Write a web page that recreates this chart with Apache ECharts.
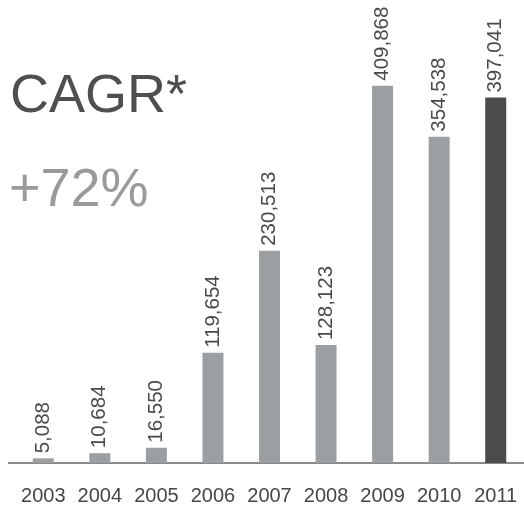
<!DOCTYPE html>
<html>
<head>
<meta charset="utf-8">
<script src="https://cdn.jsdelivr.net/npm/echarts@6/dist/echarts.min.js"></script>
<style>
  html, body { margin: 0; padding: 0; background: #fff; }
  #chart { width: 524px; height: 510px; }
</style>
</head>
<body>
<div id="chart"></div>
<script>
// Annual totals by year; the latest year is highlighted in a darker tone
const years = ['2003', '2004', '2005', '2006', '2007', '2008', '2009', '2010', '2011'];
const totals = [5088, 10684, 16550, 119654, 230513, 128123, 409868, 354538, 397041];
const headline = 'CAGR*';
const growth = '+72%';

const barGray = '#9c9fa2';
const barDark = '#4b4b4d';
const font = '"Liberation Sans", Arial, Helvetica, sans-serif';

const chart = echarts.init(document.getElementById('chart'), null, { renderer: 'canvas' });

chart.setOption({
  animation: false,
  backgroundColor: '#ffffff',
  grid: { left: 15, top: 0, width: 512, height: 463, containLabel: false },
  xAxis: {
    type: 'category',
    data: years,
    boundaryGap: true,
    axisLine: { show: false },
    axisTick: { show: false },
    axisLabel: {
      color: '#464646',
      fontSize: 20,
      fontFamily: font,
      margin: 23,
      interval: 0
    }
  },
  yAxis: {
    type: 'value',
    min: 0,
    max: 503000,
    show: false,
    splitLine: { show: false }
  },
  series: [{
    type: 'bar',
    barWidth: 21,
    data: totals.map((v, i) => ({
      value: v,
      itemStyle: { color: i === totals.length - 1 ? barDark : barGray }
    })),
    label: {
      show: true,
      position: 'top',
      rotate: 90,
      align: 'left',
      verticalAlign: 'middle',
      distance: 5,
      color: '#4a4a4a',
      fontSize: 20.5,
      fontFamily: font,
      formatter: p => p.value.toLocaleString('en-US')
    }
  }],
  graphic: [
    {
      type: 'line',
      shape: { x1: 8, y1: 463, x2: 524, y2: 463 },
      style: { stroke: '#8a8a8a', lineWidth: 2 }
    },
    {
      type: 'text',
      left: 10,
      top: 70,
      style: { text: headline, fill: '#4f4f51', fontSize: 54, fontFamily: font }
    },
    {
      type: 'text',
      left: 9,
      top: 164,
      style: { text: growth, fill: '#9a9a9c', fontSize: 54, fontFamily: font }
    }
  ]
});
</script>
</body>
</html>
